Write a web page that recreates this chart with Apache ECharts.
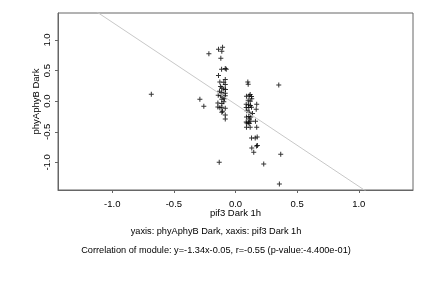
<!DOCTYPE html>
<html>
<head>
<meta charset="utf-8">
<script src="https://cdn.jsdelivr.net/npm/echarts@6/dist/echarts.min.js"></script>
<style>
  html, body { margin: 0; padding: 0; background: #fff; }
  #chart { width: 432px; height: 288px; }
</style>
</head>
<body>
<div id="chart"></div>
<script>
// x: pif3 Dark 1h, y: phyAphyB Dark
const xVals = [
  -0.683, -0.289, -0.257, -0.216, -0.132, 0.351, 0.367, 0.229, 0.356,
  -0.138, -0.105, -0.111, -0.119, -0.113, -0.083, -0.075, -0.138, -0.083, -0.127,
  -0.095, -0.083, -0.121, -0.111, -0.095, -0.081, -0.130, -0.111, -0.083, -0.140,
  -0.121, -0.100, -0.083, -0.111, -0.089, -0.143, -0.111, -0.095, -0.143, -0.127,
  -0.111, -0.083, -0.105, -0.111, -0.083, -0.083,
  0.100, 0.103, 0.119, 0.111, 0.130, 0.089, 0.132, 0.103, 0.119, 0.087,
  0.105, 0.121, 0.172, 0.087, 0.108, 0.130, 0.168, 0.092, 0.111, 0.138,
  0.089, 0.108, 0.124, 0.113, 0.087, 0.105, 0.124, 0.162, 0.092, 0.111,
  0.089, 0.119, 0.172, 0.130, 0.176, 0.160, 0.132, 0.170, 0.178, 0.148
]
const yVals = [
  0.114, 0.033, -0.082, 0.773, -0.997, 0.266, -0.866, -1.025, -1.351,
  0.850, 0.882, 0.817, 0.703, 0.523, 0.534, 0.523, 0.420, 0.355, 0.315,
  0.310, 0.273, 0.240, 0.217, 0.201, 0.191, 0.163, 0.142, 0.131, 0.098,
  0.087, 0.070, 0.087, 0.033, 0.038, -0.028, -0.038, -0.011, -0.093, -0.109,
  -0.098, -0.114, -0.163, -0.180, -0.224, -0.289,
  0.315, 0.278, 0.109, 0.087, 0.077, 0.082, 0.038, 0.016, 0.000, -0.049,
  -0.060, -0.070, -0.049, -0.103, -0.103, -0.098, -0.131, -0.158, -0.180, -0.201,
  -0.257, -0.250, -0.257, -0.289, -0.338, -0.343, -0.327, -0.327, -0.355, -0.364,
  -0.425, -0.425, -0.425, -0.600, -0.583, -0.600, -0.763, -0.730, -0.724, -0.833
]
const xTicks = [-1.0, -0.5, 0.0, 0.5, 1.0]
const yTicks = [-1.0, -0.5, 0.0, 0.5, 1.0]
const xRange = [-1.44, 1.44]
const yRange = [-1.45, 1.44]
const slope = -1.34
const intercept = -0.05

const points = xVals.map((x, i) => [x, yVals[i]])
const fitLine = xRange.map((x) => [x, slope * x + intercept])

const FONT = 'Liberation Sans'
const FS = 9.5
const plus = 'path://M2,0h1v2h2v1h-2v2h-1v-2h-2v-1h2z'

const chart = echarts.init(document.getElementById('chart'))
chart.setOption({
  animation: false,
  textStyle: { fontFamily: FONT },
  grid: { left: 58, top: 13, right: 19, bottom: 98, show: true, borderColor: '#666', borderWidth: 1 },
  xAxis: {
    type: 'value', min: xRange[0], max: xRange[1],
    name: 'pif3 Dark 1h', nameLocation: 'middle', nameGap: 18, nameMoveOverlap: false,
    nameTextStyle: { fontSize: FS, color: '#000', fontFamily: FONT },
    splitLine: { show: false },
    axisLine: { show: true, onZero: false, lineStyle: { color: '#666' } },
    axisTick: { show: true, inside: false, length: 3, customValues: xTicks, lineStyle: { color: '#666' } },
    axisLabel: { customValues: xTicks, margin: 9, fontSize: FS, color: '#000', formatter: (v) => v.toFixed(1) }
  },
  yAxis: {
    type: 'value', min: yRange[0], max: yRange[1],
    name: 'phyAphyB Dark', nameLocation: 'middle', nameGap: 17, nameMoveOverlap: false,
    nameTextStyle: { fontSize: FS, color: '#000', fontFamily: FONT },
    splitLine: { show: false },
    axisLine: { show: true, onZero: false, lineStyle: { color: '#666' } },
    axisTick: { show: true, inside: false, length: 3, customValues: yTicks, lineStyle: { color: '#666' } },
    axisLabel: { customValues: yTicks, rotate: 90, margin: 6, fontSize: FS, color: '#000', formatter: (v) => v.toFixed(1) }
  },
  graphic: [
    { type: 'text', left: 'center', top: 227, style: { text: 'yaxis: phyAphyB Dark, xaxis: pif3 Dark 1h', font: '9.2px "Liberation Sans"', fill: '#000' } },
    { type: 'text', left: 'center', top: 246, style: { text: 'Correlation of module: y=-1.34x-0.05, r=-0.55 (p-value:-4.400e-01)', font: '9.2px "Liberation Sans"', fill: '#000' } }
  ],
  series: [
    {
      type: 'line', data: fitLine, showSymbol: false, clip: true, silent: true,
      lineStyle: { color: '#c8c8c8', width: 1 }
    },
    {
      type: 'scatter', data: points, symbol: plus, symbolSize: 5,
      itemStyle: { color: '#000' }
    }
  ]
})
</script>
</body>
</html>
